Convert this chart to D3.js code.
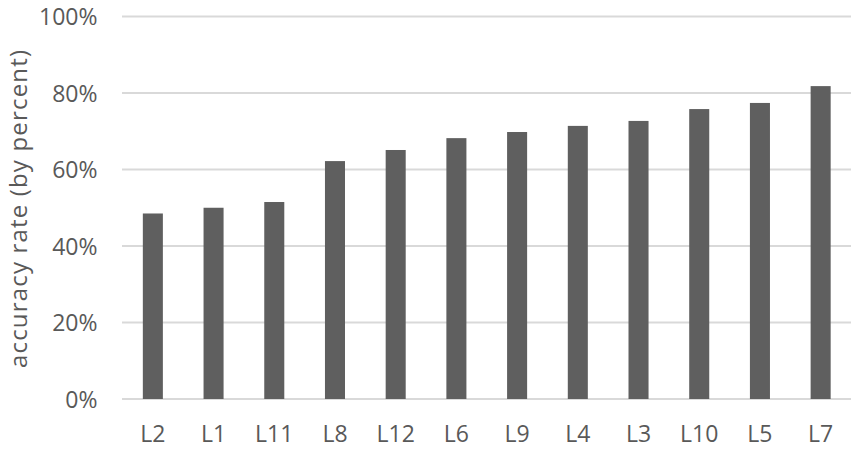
<!DOCTYPE html>
<html><head><meta charset="utf-8">
<script src="https://cdn.jsdelivr.net/npm/d3@7"></script>
<style>body{margin:0;background:#fff;} text{font-family:"Open Sans",sans-serif;fill:#595959;}</style>
</head><body><svg id="c" width="854" height="450"></svg>
<script>
const categories = ["L2","L1","L11","L8","L12","L6","L9","L4","L3","L10","L5","L7"];
const values = [48.5, 50.0, 51.5, 62.2, 65.1, 68.2, 69.8, 71.4, 72.7, 75.8, 77.4, 81.8];
const yTicks = [0, 20, 40, 60, 80, 100];
const yLabel = "accuracy rate (by percent)";

const svg = d3.select("#c");
const x = d3.scaleBand().domain(categories).range([122.5, 851]).paddingInner(0.67).paddingOuter(0.335);
const y = d3.scaleLinear().domain([0, 100]).range([399, 16.5]);

// gridlines
svg.append("g").selectAll("line").data(yTicks).join("line")
  .attr("x1", 122).attr("x2", 851)
  .attr("y1", d => y(d)).attr("y2", d => y(d))
  .attr("stroke", "#d9d9d9").attr("stroke-width", 2);

// bars
svg.append("g").selectAll("rect").data(values).join("rect")
  .attr("x", (d, i) => x(categories[i]))
  .attr("width", x.bandwidth())
  .attr("y", d => y(d))
  .attr("height", d => y(0) - y(d))
  .attr("fill", "#5f5f5f");

// y axis
const yAxis = d3.axisLeft(y).tickValues(yTicks).tickFormat(d => d + "%").tickSize(0).tickPadding(0);
const gy = svg.append("g").attr("transform", "translate(97.5,0)").call(yAxis);
gy.select(".domain").remove();
gy.selectAll("text").attr("font-size", 23).attr("fill", "#595959").style("font-family", "'Open Sans',sans-serif").attr("dy", "0.36em");

// x axis
const xAxis = d3.axisBottom(x).tickSize(0).tickPadding(0);
const gx = svg.append("g").attr("transform", "translate(0,442)").call(xAxis);
gx.select(".domain").remove();
gx.selectAll("text").attr("font-size", 23).attr("fill", "#595959").style("font-family", "'Open Sans',sans-serif").attr("dy", "0");

svg.append("text").attr("transform", "translate(20,209) rotate(-90)")
  .attr("text-anchor", "middle").attr("dy", "0.3em").attr("font-size", 24)
  .attr("textLength", 318).attr("lengthAdjust", "spacing").text(yLabel);
</script></body></html>
